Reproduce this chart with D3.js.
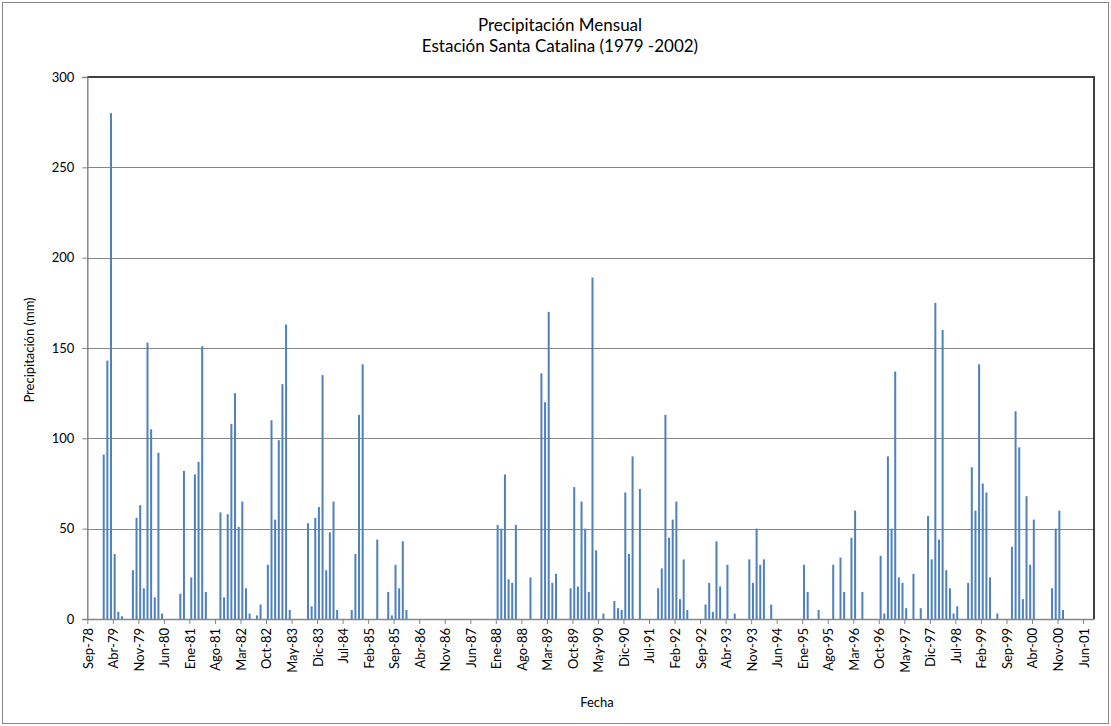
<!DOCTYPE html>
<html lang="es">
<head>
<meta charset="utf-8">
<title>Precipitación Mensual - Estación Santa Catalina</title>
<script src="https://cdn.jsdelivr.net/npm/d3@7/dist/d3.min.js"></script>
<style>
  html, body { margin: 0; padding: 0; background: #fff; }
  svg { display: block; }
  text { font-family: Lato, "Liberation Sans", sans-serif; fill: #000; }
</style>
</head>
<body>
<svg id="chart" width="1111" height="726"></svg>
<script>
// Monthly precipitation (mm), one row per hydrological year, Sep..Aug
const y1978 = [0, 0, 0, 0, 91, 143, 280, 36, 4, 1.5, 0, 0];
const y1979 = [27, 56, 63, 17, 153, 105, 12, 92, 3, 0, 0, 0];
const y1980 = [0, 14, 82, 0, 23, 80, 87, 151, 15, 0, 0, 0];
const y1981 = [59, 12, 58, 108, 125, 51, 65, 17, 3, 0, 2, 8];
const y1982 = [0, 30, 110, 55, 99, 130, 163, 5, 0, 0, 0, 0];
const y1983 = [53, 7, 56, 62, 135, 27, 48, 65, 5, 0, 0, 0];
const y1984 = [5, 36, 113, 141, 0, 0, 0, 44, 0, 0, 15, 2];
const y1985 = [30, 17, 43, 5, 0, 0, 0, 0, 0, 0, 0, 0];
const y1986 = [0, 0, 0, 0, 0, 0, 0, 0, 0, 0, 0, 0];
const y1987 = [0, 0, 0, 0, 52, 50, 80, 22, 20, 52, 0, 0];
const y1988 = [0, 23, 0, 0, 136, 120, 170, 20, 25, 0, 0, 0];
const y1989 = [17, 73, 18, 65, 50, 15, 189, 38, 0, 3, 0, 0];
const y1990 = [10, 6, 5, 70, 36, 90, 0, 72, 0, 0, 0, 0];
const y1991 = [17, 28, 113, 45, 55, 65, 11, 33, 5, 0, 0, 0];
const y1992 = [0, 8, 20, 4, 43, 18, 0, 30, 0, 3, 0, 0];
const y1993 = [0, 33, 20, 50, 30, 33, 0, 8, 0, 0, 0, 0];
const y1994 = [0, 0, 0, 0, 30, 15, 0, 0, 5, 0, 0, 0];
const y1995 = [30, 0, 34, 15, 0, 45, 60, 0, 15, 0, 0, 0];
const y1996 = [0, 35, 3, 90, 50, 137, 23, 20, 6, 0, 25, 0];
const y1997 = [6, 0, 57, 33, 175, 44, 160, 27, 17, 3, 7, 0];
const y1998 = [0, 20, 84, 60, 141, 75, 70, 23, 0, 3, 0, 0];
const y1999 = [0, 40, 115, 95, 11, 68, 30, 55, 0, 0, 0, 0];
const y2000 = [17, 50, 60, 5, 0, 0, 0, 0, 0, 0, 0, 0];

const precip = [].concat(
  y1978, y1979, y1980, y1981, y1982, y1983, y1984, y1985, y1986, y1987, y1988, y1989,
  y1990, y1991, y1992, y1993, y1994, y1995, y1996, y1997, y1998, y1999, y2000
);

// Date-axis labels, one every 7 months starting at Sep-78
const tickLabels = [
  "Sep-78", "Abr-79", "Nov-79", "Jun-80", "Ene-81", "Ago-81", "Mar-82", "Oct-82",
  "May-83", "Dic-83", "Jul-84", "Feb-85", "Sep-85", "Abr-86", "Nov-86", "Jun-87",
  "Ene-88", "Ago-88", "Mar-89", "Oct-89", "May-90", "Dic-90", "Jul-91", "Feb-92",
  "Sep-92", "Abr-93", "Nov-93", "Jun-94", "Ene-95", "Ago-95", "Mar-96", "Oct-96",
  "May-97", "Dic-97", "Jul-98", "Feb-99", "Sep-99", "Abr-00", "Nov-00", "Jun-01"
];
const tickStep = 7;
const yTicks = [0, 50, 100, 150, 200, 250, 300];

const titleLines = ["Precipitación  Mensual", "Estación Santa Catalina (1979 -2002)"];
const yTitle = "Precipitación (mm)";
const xTitle = "Fecha";

// ---- layout ----
const W = 1111, H = 726;
const plot = { left: 87.3, right: 1094, top: 77, bottom: 619 };
const barColor = "#4f81bd";
const axisColor = "#868686";

const svg = d3.select("#chart");

// outer chart frame
svg.append("rect")
  .attr("x", 2.5).attr("y", 2.5)
  .attr("width", W - 5).attr("height", H - 5)
  .attr("fill", "#fff").attr("stroke", axisColor).attr("stroke-width", 1);

const x = d3.scaleLinear().domain([0, precip.length]).range([plot.left, plot.right]);
const y = d3.scaleLinear().domain([0, 300]).range([plot.bottom, plot.top]);

// horizontal gridlines
svg.append("g")
  .selectAll("line")
  .data(yTicks.filter(v => v > 0 && v < 300))
  .join("line")
  .attr("x1", plot.left).attr("x2", plot.right)
  .attr("y1", d => Math.round(y(d)) + 0.5).attr("y2", d => Math.round(y(d)) + 0.5)
  .attr("stroke", axisColor).attr("stroke-width", 1);

// plot-area frame (top and right sides)
svg.append("path")
  .attr("d", `M${plot.left},${plot.top}H${plot.right}V${plot.bottom}`)
  .attr("fill", "none").attr("stroke", "#404040").attr("stroke-width", 2);

// bars: each month occupies one slot between date ticks
const slot = x(1) - x(0);
const barW = slot * 0.55;
svg.append("g")
  .selectAll("rect")
  .data(precip.map((v, i) => ({ i, v })).filter(d => d.v > 0))
  .join("rect")
  .attr("x", d => x(d.i + 0.5) - barW / 2)
  .attr("width", barW)
  .attr("y", d => y(d.v))
  .attr("height", d => y(0) - y(d.v))
  .attr("fill", barColor);

// y axis
const yAxis = d3.axisLeft(y).tickValues(yTicks).tickSize(5).tickPadding(8);
const gy = svg.append("g").attr("transform", `translate(${plot.left},0)`).call(yAxis);
gy.select(".domain").attr("stroke", axisColor).attr("stroke-width", 1.5);
gy.selectAll(".tick line").attr("stroke", axisColor);
gy.selectAll(".tick text").attr("font-size", 13).attr("fill", "#000")
  .style("font-family", "Lato, 'Liberation Sans', sans-serif");

// x axis with month-date ticks
const tickMonths = tickLabels.map((_, i) => i * tickStep);
const xAxis = d3.axisBottom(x).tickValues(tickMonths)
  .tickFormat((d, i) => tickLabels[i]).tickSize(5).tickSizeOuter(0);
const gx = svg.append("g").attr("transform", `translate(0,${plot.bottom})`).call(xAxis);
gx.select(".domain").attr("stroke", axisColor).attr("stroke-width", 1.5);
gx.selectAll(".tick line").attr("stroke", axisColor);
gx.selectAll(".tick text")
  .attr("font-size", 13).attr("fill", "#000")
  .style("font-family", "Lato, 'Liberation Sans', sans-serif")
  .attr("text-anchor", "end")
  .attr("transform", "rotate(-90)")
  .attr("x", -9).attr("y", 0).attr("dy", "0.38em");

// titles
const titleX = 560;
const title = svg.append("text")
  .attr("x", titleX).attr("y", 31)
  .attr("text-anchor", "middle").attr("font-size", 17);
title.selectAll("tspan").data(titleLines).join("tspan")
  .attr("x", titleX).attr("dy", (d, i) => i === 0 ? 0 : 21)
  .text(d => d);

svg.append("text")
  .attr("transform", `translate(34,${(plot.top + plot.bottom) / 2 + 2}) rotate(-90)`)
  .attr("text-anchor", "middle").attr("font-size", 13)
  .text(yTitle);

svg.append("text")
  .attr("x", 597).attr("y", 707)
  .attr("text-anchor", "middle").attr("font-size", 13)
  .text(xTitle);
</script>
</body>
</html>
